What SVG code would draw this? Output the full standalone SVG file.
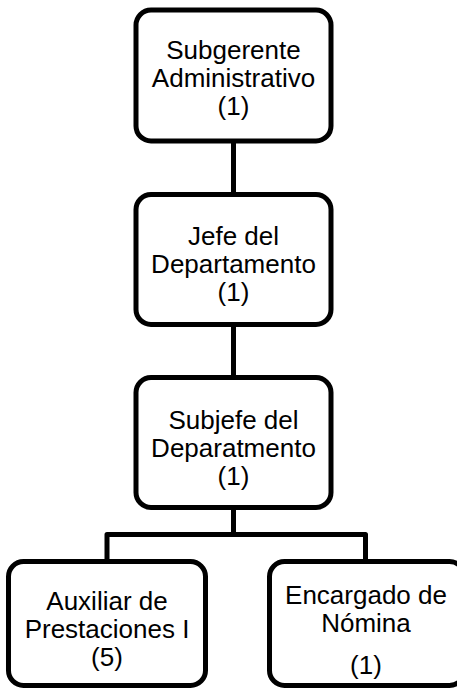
<svg xmlns="http://www.w3.org/2000/svg" width="457" height="690" viewBox="0 0 457 690">
<style>
.box{fill:#fff;stroke:#000;stroke-width:5}
.lbl{font-family:"Liberation Sans",Arial,sans-serif;font-size:26px;fill:#000;text-anchor:middle}
.con{fill:none;stroke:#000;stroke-width:5;stroke-linejoin:round}
</style>
<rect width="457" height="690" fill="#fff"/>
<g id="connectors">
<path class="con" d="M233.5 143 V193"/>
<path class="con" d="M233.5 327 V376"/>
<path class="con" d="M233.5 509 V534.5 M107 560 V534.5 H365.5 V560"/>
</g>
<g id="n1">
<rect class="box" x="136" y="10" width="195" height="131" rx="15"/>
<text class="lbl" x="233.5" y="59">Subgerente</text>
<text class="lbl" x="233.5" y="87">Administrativo</text>
<text class="lbl" x="233.5" y="115">(1)</text>
</g>
<g id="n2">
<rect class="box" x="136" y="194.5" width="195" height="130" rx="15"/>
<text class="lbl" x="233.5" y="245">Jefe del</text>
<text class="lbl" x="233.5" y="273">Departamento</text>
<text class="lbl" x="233.5" y="301">(1)</text>
</g>
<g id="n3">
<rect class="box" x="136" y="377.5" width="195" height="130" rx="15"/>
<text class="lbl" x="233.5" y="429">Subjefe del</text>
<text class="lbl" x="233.5" y="457">Deparatmento</text>
<text class="lbl" x="233.5" y="485">(1)</text>
</g>
<g id="n4">
<rect class="box" x="8.5" y="561.5" width="197" height="124" rx="15"/>
<text class="lbl" x="107" y="610">Auxiliar de</text>
<text class="lbl" x="107" y="638">Prestaciones I</text>
<text class="lbl" x="107" y="666">(5)</text>
</g>
<g id="n5">
<rect class="box" x="269.5" y="561.5" width="195" height="124" rx="15"/>
<text class="lbl" x="366" y="604">Encargado de</text>
<text class="lbl" x="366" y="632">Nómina</text>
<text class="lbl" x="366" y="674">(1)</text>
</g>
</svg>
